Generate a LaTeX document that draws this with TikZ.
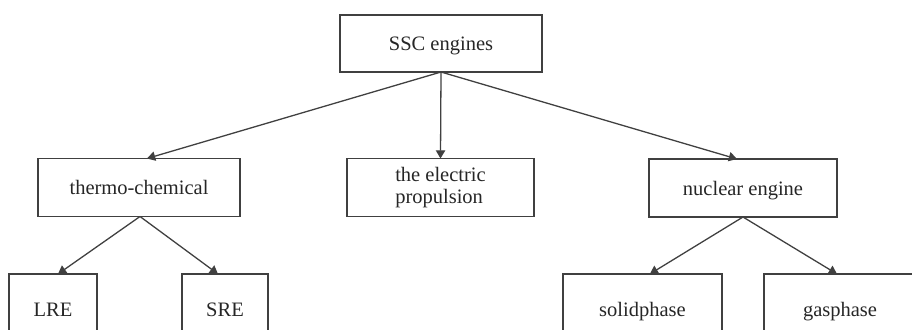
\documentclass[tikz,border=0pt]{standalone}
\usepackage{fontspec}
\setmainfont{Liberation Serif}
\usetikzlibrary{arrows.meta}

\begin{document}
\begin{tikzpicture}[x=0.03cm, y=-0.03cm,
    box/.style={draw=black!75, line width=1.2pt, fill=white, outer sep=0pt,
      text=black!85, font=\fontsize{17.5}{19.5}\selectfont,
      text height=12pt, text depth=0pt, minimum height=1.74cm},
    twoline/.style={draw=black!75, line width=1.2pt, fill=white, outer sep=0pt,
      text=black!85, font=\fontsize{17.5}{19.5}\selectfont, align=left,
      minimum height=1.74cm},
    low/.style={box, minimum height=2.1cm},
    link/.style={draw=black!75, line width=1.1pt, -{Triangle[length=7pt, width=8pt]}}]
  \useasboundingbox (0, 0) rectangle (912, 329);
  \clip (0, 0) rectangle (912, 329);
  \fill[white] (0, 0) rectangle (912, 329);
  % top level
  \node[box, minimum width=6.06cm, minimum height=1.71cm] at (441, 43.5) (ssc) {SSC engines};
  % second level
  \node[box, minimum width=6.06cm] at (139, 187.5) (thermo) {thermo-chemical};
  \node[twoline, minimum width=5.61cm] at (440.5, 187.5) (elec) {the electric\\propulsion};
  \node[box, minimum width=5.64cm] at (743, 188) (nuclear) {nuclear engine};
  % third level, cut off at the bottom
  \node[low, minimum width=2.64cm] at (53, 309) (lre) {LRE};
  \node[low, minimum width=2.58cm] at (225, 309) (sre) {SRE};
  \node[low, minimum width=4.77cm] at (642.5, 309) (solid) {solidphase};
  \node[low, minimum width=4.56cm] at (840, 309) (gas) {gasphase};
  \draw[link] (ssc.south) -- ([xshift=0.24cm]thermo.north);
  \draw[link] (ssc.south) -- (elec.north);
  \draw[link] (ssc.south) -- ([xshift=-0.18cm]nuclear.north);
  \draw[link] ([xshift=0.03cm]thermo.south) -- ([xshift=0.15cm]lre.north);
  \draw[link] ([xshift=0.03cm]thermo.south) -- ([xshift=-0.21cm]sre.north);
  \draw[link] (nuclear.south) -- ([xshift=0.22cm]solid.north);
  \draw[link] (nuclear.south) -- ([xshift=-0.09cm]gas.north);
\end{tikzpicture}
\end{document}
